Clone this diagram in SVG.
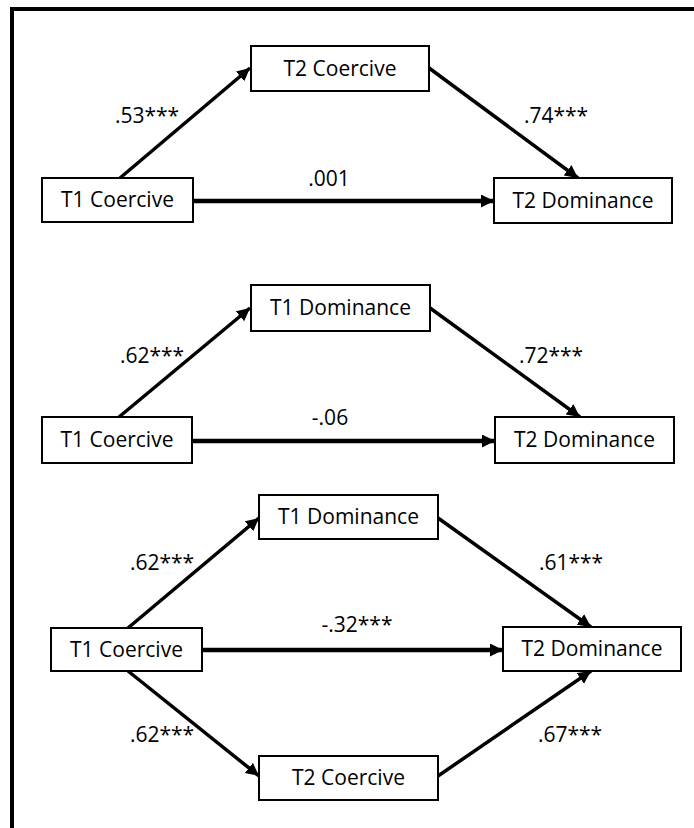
<svg xmlns="http://www.w3.org/2000/svg" width="694" height="828" viewBox="0 0 694 828">
<style>
.box{fill:#fff;stroke:#000;stroke-width:2}
.nt{font-family:"Open Sans","Liberation Sans",sans-serif;font-size:21px;fill:#000;text-anchor:middle}
.lb{font-family:"Open Sans","Liberation Sans",sans-serif;font-size:21px;fill:#000;text-anchor:middle}
.e{stroke:#000;stroke-width:3.5;fill:none;marker-end:url(#ah)}
.h{stroke-width:4.5}
</style>
<defs>
<marker id="ah" markerUnits="userSpaceOnUse" markerWidth="14" markerHeight="14" refX="13" refY="6.5" orient="auto">
<path d="M0,0 L13,6.5 L0,13 z" fill="#000"/>
</marker>
</defs>
<rect width="694" height="828" fill="#fff"/>
<path d="M12,828 V9 H700" fill="none" stroke="#000" stroke-width="4"/>
<g id="connectors">
<line class="e" x1="120" y1="178" x2="250" y2="68"/>
<line class="e" x1="429" y1="68" x2="578" y2="178"/>
<line class="e h" x1="193" y1="201" x2="494" y2="201"/>
<line class="e" x1="119" y1="417" x2="250" y2="308"/>
<line class="e" x1="430" y1="308" x2="580" y2="417"/>
<line class="e h" x1="192" y1="441" x2="495" y2="441"/>
<line class="e" x1="128" y1="628" x2="259" y2="518"/>
<line class="e" x1="438" y1="518" x2="591" y2="627"/>
<line class="e h" x1="202" y1="650" x2="503" y2="650"/>
<line class="e" x1="128" y1="671" x2="259" y2="776"/>
<line class="e" x1="438" y1="776" x2="591" y2="671"/>
</g>
<g id="labels">
<text class="lb" x="147" y="123">.53***</text>
<text class="lb" x="556" y="123">.74***</text>
<text class="lb" x="329" y="186">.001</text>
<text class="lb" x="152" y="363">.62***</text>
<text class="lb" x="551" y="363">.72***</text>
<text class="lb" x="330" y="425">-.06</text>
<text class="lb" x="162" y="570">.62***</text>
<text class="lb" x="571" y="570">.61***</text>
<text class="lb" x="357" y="632">-.32***</text>
<text class="lb" x="162" y="742">.62***</text>
<text class="lb" x="570" y="742">.67***</text>
</g>
<g id="d1_t2c"><rect class="box" x="251" y="46" width="178" height="45"/><text class="nt" x="340" y="76">T2 Coercive</text></g>
<g id="d1_t1c"><rect class="box" x="42" y="178" width="151" height="44"/><text class="nt" x="117.5" y="207">T1 Coercive</text></g>
<g id="d1_t2d"><rect class="box" x="494" y="178" width="178" height="45"/><text class="nt" x="583" y="208">T2 Dominance</text></g>
<g id="d2_t1d"><rect class="box" x="251" y="285" width="179" height="46"/><text class="nt" x="340.5" y="315">T1 Dominance</text></g>
<g id="d2_t1c"><rect class="box" x="42" y="417" width="150" height="46"/><text class="nt" x="117" y="447">T1 Coercive</text></g>
<g id="d2_t2d"><rect class="box" x="495" y="417" width="179" height="46"/><text class="nt" x="584.5" y="447">T2 Dominance</text></g>
<g id="d3_t1d"><rect class="box" x="259" y="495" width="179" height="44"/><text class="nt" x="348.5" y="524">T1 Dominance</text></g>
<g id="d3_t1c"><rect class="box" x="51" y="628" width="151" height="43"/><text class="nt" x="126.5" y="657">T1 Coercive</text></g>
<g id="d3_t2d"><rect class="box" x="503" y="627" width="178" height="44"/><text class="nt" x="592" y="656">T2 Dominance</text></g>
<g id="d3_t2c"><rect class="box" x="259" y="756" width="179" height="44"/><text class="nt" x="348.5" y="785">T2 Coercive</text></g>
</svg>
